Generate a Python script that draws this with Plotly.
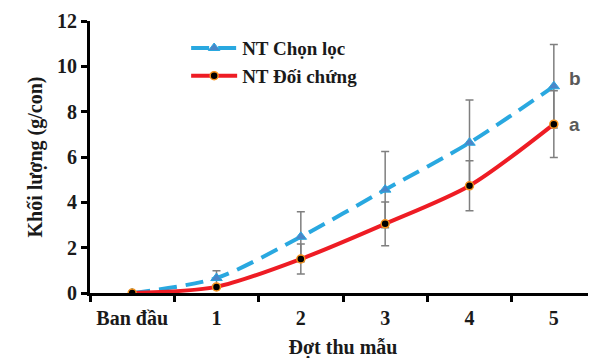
import plotly.graph_objects as go

categories = ["Ban đầu", "1", "2", "3", "4", "5"]
chon_loc = [0.0, 0.66, 2.48, 4.56, 6.63, 9.12]
chon_loc_err = [0.0, 0.32, 1.1, 1.68, 1.88, 1.84]
doi_chung = [0.0, 0.27, 1.5, 3.05, 4.73, 7.45]
doi_chung_err = [0.0, 0.0, 0.66, 0.97, 1.1, 1.47]
y_ticks = [0, 2, 4, 6, 8, 10, 12]
sig_labels = ["b", "a"]

serif = "Liberation Serif, Times New Roman, serif"

fig = go.Figure()
fig.add_trace(go.Scatter(
    x=categories, y=chon_loc, name="<b>NT Chọn lọc</b>", mode="lines+markers",
    line=dict(color="#29a8e0", width=4, dash="18px,9px", shape="spline", smoothing=0.8),
    marker=dict(symbol="triangle-up", size=10, color="#4a86c8", line=dict(color="#29a8e0", width=1)),
    error_y=dict(type="data", array=chon_loc_err, color="#7f7f7f", thickness=1.5, width=4),
))
fig.add_trace(go.Scatter(
    x=categories, y=doi_chung, name="<b>NT Đối chứng</b>", mode="lines+markers",
    line=dict(color="#ee1c24", width=4, shape="spline", smoothing=0.8),
    marker=dict(symbol="circle", size=8, color="black", line=dict(color="#f7941d", width=1.5)),
    error_y=dict(type="data", array=doi_chung_err, color="#7f7f7f", thickness=1.5, width=4),
))

for lab, yv in zip(sig_labels, [chon_loc[-1], doi_chung[-1]]):
    fig.add_annotation(x=categories[-1], y=yv, text="<b>%s</b>" % lab, showarrow=False,
                       xshift=21, yshift=8 if lab == "b" else 0,
                       font=dict(family="Liberation Sans, Arial, sans-serif", size=19, color="#595959"))

fig.update_layout(
    width=596, height=358,
    margin=dict(l=82, r=8, t=13, b=73),
    plot_bgcolor="white", paper_bgcolor="white",
    showlegend=True,
    legend=dict(x=0.19, y=0.97, xanchor="left", yanchor="top", bgcolor="rgba(0,0,0,0)",
                font=dict(family=serif, size=19, color="#1a1a1a"), tracegroupgap=0,
                itemwidth=46),
    font=dict(family=serif, color="#1a1a1a"),
)
fig.update_xaxes(
    type="category", range=[-0.5, 5.5], tickson="boundaries", automargin=False,
    showline=True, linecolor="black", linewidth=3,
    ticks="outside", ticklen=6, tickwidth=3, tickcolor="black",
    ticklabelstandoff=5,
    tickfont=dict(family=serif, size=20, color="#1a1a1a"),
    title=dict(text="<b>Đợt thu mẫu</b>", font=dict(family=serif, size=20, color="#1a1a1a"), standoff=12),
    showgrid=False, zeroline=False,
    tickvals=categories, ticktext=["<b>%s</b>" % c for c in categories],
)
fig.update_yaxes(
    range=[0, 12], tickvals=y_ticks, ticktext=["<b>%d</b>" % v for v in y_ticks], automargin=False,
    showline=True, linecolor="black", linewidth=3,
    ticks="outside", ticklen=6, tickwidth=3, tickcolor="black",
    tickfont=dict(family=serif, size=20, color="#1a1a1a"),
    title=dict(text="<b>Khối lượng (g/con)</b>", font=dict(family=serif, size=20, color="#1a1a1a"), standoff=10),
    showgrid=False, zeroline=False,
)
fig.write_html("out.html")
